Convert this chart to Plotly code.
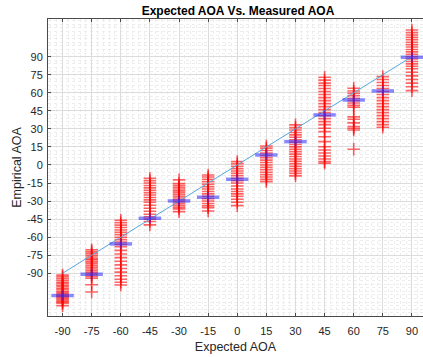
import plotly.graph_objects as go

# ---------------- data ----------------
expected_aoa = [-90, -75, -60, -45, -30, -15, 0, 15, 30, 45, 60, 75, 90]

meas_m90 = [-91.5, -93, -94.5, -96, -97.5, -98.5, -100, -101, -102.5, -103.5, -105, -106,
            -107, -108, -109, -110, -111, -112, -113, -114, -115, -117]
meas_m75 = [-70.5, -72, -73.5, -75, -76.5, -78, -79, -80.5, -82, -83.5, -85, -86.5, -88,
            -89.5, -91, -92.5, -94, -99.5, -105.5]
meas_m60 = [-46, -48, -50, -52, -54, -56, -58, -60, -62, -64, -66, -68, -71, -74, -77,
            -80, -83, -86, -89, -92, -95, -97.5, -99.7]
meas_m45 = [-11, -13, -15, -17, -19, -21, -23, -25, -27, -29, -31, -33.5, -36, -38.5,
            -41, -43, -45, -47, -49.8]
meas_m30 = [-12.4, -15.5, -17, -18.5, -20, -21.5, -23, -24.5, -26, -27.5, -29, -30.5,
            -32, -33.5, -35, -36.5, -38.8]
meas_m15 = [-8.3, -10, -12, -14, -16, -18, -20, -22, -24, -26, -28, -30, -32, -34,
            -35.5, -38.2]
meas_0 = [2.8, 1, -1, -3, -5, -7, -9, -11, -13, -15, -17.5, -20, -22, -24, -26, -28.5,
          -31, -33.8]
meas_15 = [15.8, 14, 12, 10, 8, 6, 4, 2, 0, -2, -4, -6, -8, -10, -12, -13.8]
meas_30 = [33.3, 31, 29, 27, 25, 23, 21, 19, 17, 15, 13, 11, 9, 7, 5, 3, 1, -1, -3, -5,
           -7, -9.1]
meas_45 = [72.9, 70.5, 68, 66, 63.5, 61, 58.5, 56, 53.5, 51, 48.5, 46, 43.5, 41, 38.5,
           36, 33.5, 30.5, 27.7, 23.5, 19.4, 15.2, 12.5, 10, 7.5, 5, 2.8, 1.4]
meas_60 = [63.7, 61.5, 59.5, 57.5, 55.5, 53.5, 51.5, 49.5, 48, 40, 38, 35, 32, 30.5,
           29.1, 13.1]
meas_75 = [73.4, 71, 68.5, 66, 63.5, 61, 58.5, 56, 53.5, 51, 48.5, 46, 43.5, 41, 38.5,
           36, 33.5, 31.3]
meas_90 = [112.2, 110, 108, 106, 104, 102, 100, 98, 96, 94, 92, 90, 88, 86, 84, 82, 80,
           77, 74, 71, 68, 65, 61.8]

measured_groups = [meas_m90, meas_m75, meas_m60, meas_m45, meas_m30, meas_m15, meas_0,
                   meas_15, meas_30, meas_45, meas_60, meas_75, meas_90]

mean_aoa = [-108.5, -90.8, -65.6, -44.3, -29.9, -26.8, -11.9, 8.3, 19.4, 41.6, 54.0,
            61.5, 89.5]

ideal_x = [-90, 90]
ideal_y = [-90, 90]

tick_vals = [-90, -75, -60, -45, -30, -15, 0, 15, 30, 45, 60, 75, 90]
tick_text = [str(v) for v in tick_vals]

# ---------------- build ----------------
px, py = [], []
for e, grp in zip(expected_aoa, measured_groups):
    px += [e] * len(grp)
    py += grp

fig = go.Figure()
fig.add_trace(go.Scatter(
    x=px, y=py, mode="markers",
    marker=dict(symbol="cross-thin", size=9, color="rgba(255,0,0,0.6)",
                line=dict(color="rgba(255,0,0,0.6)", width=1.6)),
    showlegend=False, hoverinfo="x+y"))
fig.add_trace(go.Scatter(
    x=ideal_x, y=ideal_y, mode="lines",
    line=dict(color="#55a6dd", width=1), showlegend=False))
fig.add_trace(go.Scatter(
    x=expected_aoa, y=mean_aoa, mode="markers",
    marker=dict(symbol="line-ew", size=16, color="rgba(40,40,255,0.55)",
                line=dict(color="rgba(40,40,255,0.55)", width=3.5)),
    showlegend=False))
fig.add_trace(go.Scatter(
    x=expected_aoa, y=mean_aoa, mode="markers",
    marker=dict(symbol="line-ns", size=7, color="rgba(40,40,255,0.45)",
                line=dict(color="rgba(40,40,255,0.45)", width=2)),
    showlegend=False))

axis_common = dict(
    tickmode="array", tickvals=tick_vals, ticktext=tick_text,
    showgrid=True, gridcolor="#dcdcdc", gridwidth=1,
    zeroline=False, showline=True, linecolor="#4a4a4a", linewidth=1,
    ticks="inside", ticklen=3, tickcolor="#4a4a4a",
    tickfont=dict(family="Liberation Sans, Arial", size=11, color="#262626"),
    minor=dict(dtick=3, tick0=0, showgrid=True, gridcolor="#ededed",
               griddash="dot", gridwidth=1, ticks=""),
)

fig.update_layout(
    width=423, height=357,
    margin=dict(l=48, r=0, t=19, b=41),
    paper_bgcolor="white", plot_bgcolor="white",
    title=dict(text="<b>Expected AOA Vs. Measured AOA</b>",
               x=238 / 423, xanchor="center", xref="container",
               y=1 - 11 / 357, yanchor="middle", yref="container",
               font=dict(family="Liberation Sans, Arial", size=12, color="#000000")),
    xaxis=dict(axis_common, range=[-97.5, 95.7], mirror="ticks",
               ticklabelstandoff=5,
               title=dict(text="Expected AOA", standoff=6,
                          font=dict(family="Liberation Sans, Arial", size=12.5,
                                    color="#262626"))),
    yaxis=dict(axis_common, range=[-125.5, 121.3], mirror=False,
               ticklabelstandoff=2,
               title=dict(text="Empirical AOA", standoff=2,
                          font=dict(family="Liberation Sans, Arial", size=12.5,
                                    color="#262626"))),
)

fig.write_html("out.html")
